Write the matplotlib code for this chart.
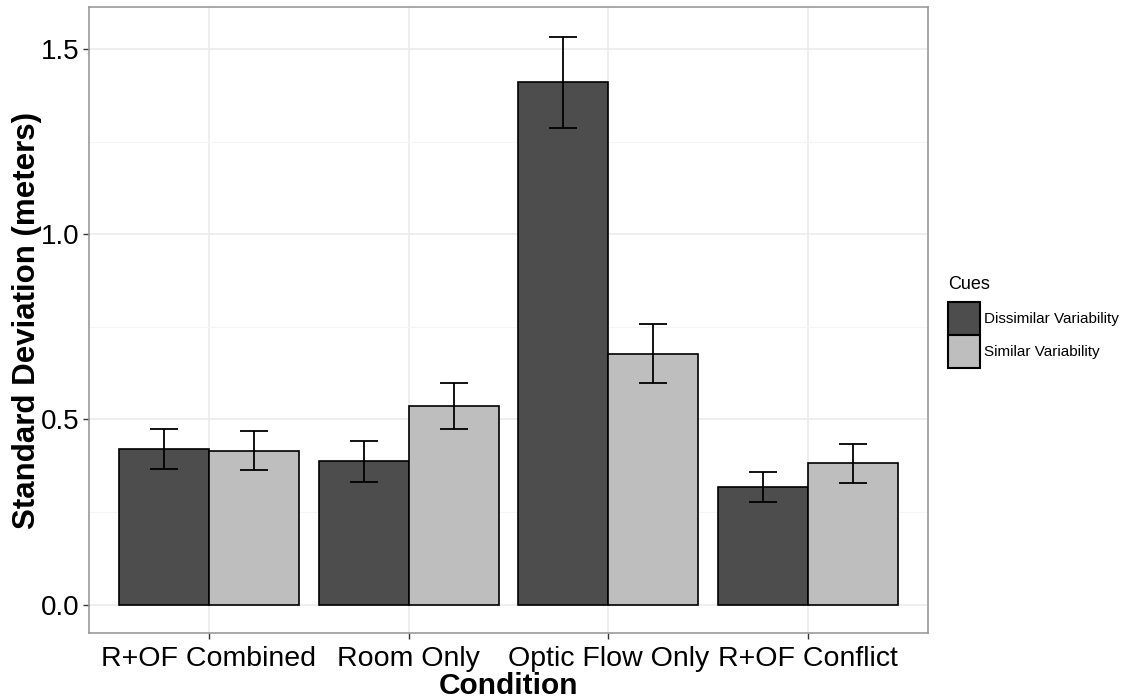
import matplotlib.pyplot as plt
import matplotlib.patches as mpatches
import numpy as np

plt.rcParams['font.family'] = ['Liberation Sans', 'DejaVu Sans']

conditions = ["R+OF Combined", "Room Only", "Optic Flow Only", "R+OF Conflict"]
cues = ["Dissimilar Variability", "Similar Variability"]
colors = ["#4d4d4d", "#bebebe"]

dissimilar_mean = [0.420, 0.387, 1.411, 0.317]
dissimilar_err = [0.053, 0.055, 0.123, 0.041]
similar_mean = [0.416, 0.536, 0.677, 0.381]
similar_err = [0.054, 0.061, 0.080, 0.052]

means = [dissimilar_mean, similar_mean]
errs = [dissimilar_err, similar_err]

fig = plt.figure(figsize=(11.28, 7), dpi=100)
ax = fig.add_axes([0.0789, 0.0957, 0.7438, 0.8943])

x = np.arange(1, len(conditions) + 1)
w = 0.45
for i in range(2):
    pos = x + (i - 0.5) * w
    ax.bar(pos, means[i], width=w, color=colors[i], edgecolor="black",
           linewidth=1.2, zorder=3)
    ax.errorbar(pos, means[i], yerr=errs[i], fmt="none", ecolor="black",
                elinewidth=1.3, capsize=10, capthick=1.3, zorder=4)

ax.set_xlim(0.4, 4.6)
ax.set_ylim(-0.077, 1.614)
ax.set_xticks(x)
ax.set_xticklabels(conditions, fontsize=20.5)
ax.set_yticks([0, 0.5, 1.0, 1.5])
ax.set_yticklabels(["0.0", "0.5", "1.0", "1.5"], fontsize=20)
ax.set_yticks([0.25, 0.75, 1.25], minor=True)
ax.grid(which="major", color="#ebebeb", linewidth=1.2, zorder=0)
ax.grid(which="minor", axis="y", color="#f5f5f5", linewidth=0.8, zorder=0)
ax.tick_params(which="major", length=4, color="#333333", width=1)
ax.tick_params(axis="x", pad=5)
ax.tick_params(axis="y", pad=3)
ax.tick_params(which="minor", length=0)
for s in ax.spines.values():
    s.set_color("#999999")
    s.set_linewidth(1.2)

ax.set_xlabel("Condition", fontsize=21.5, fontweight="bold", labelpad=0)
ax.set_ylabel("Standard Deviation (meters)", fontsize=22.5, fontweight="bold", labelpad=-1)

handles = [mpatches.Patch(facecolor=c, edgecolor="black", linewidth=1.5, label=l)
           for c, l in zip(colors, cues)]
leg = fig.legend(handles=handles, title="Cues", loc="center left",
                 bbox_to_anchor=(0.834, 0.54), frameon=False, fontsize=11,
                 title_fontsize=13, handlelength=2.1, handleheight=2.95,
                 handletextpad=0.25, labelspacing=0.0, borderpad=0)
leg._legend_box.align = "left"
leg._legend_box.sep = 6

fig.savefig("out.png", dpi=100)
